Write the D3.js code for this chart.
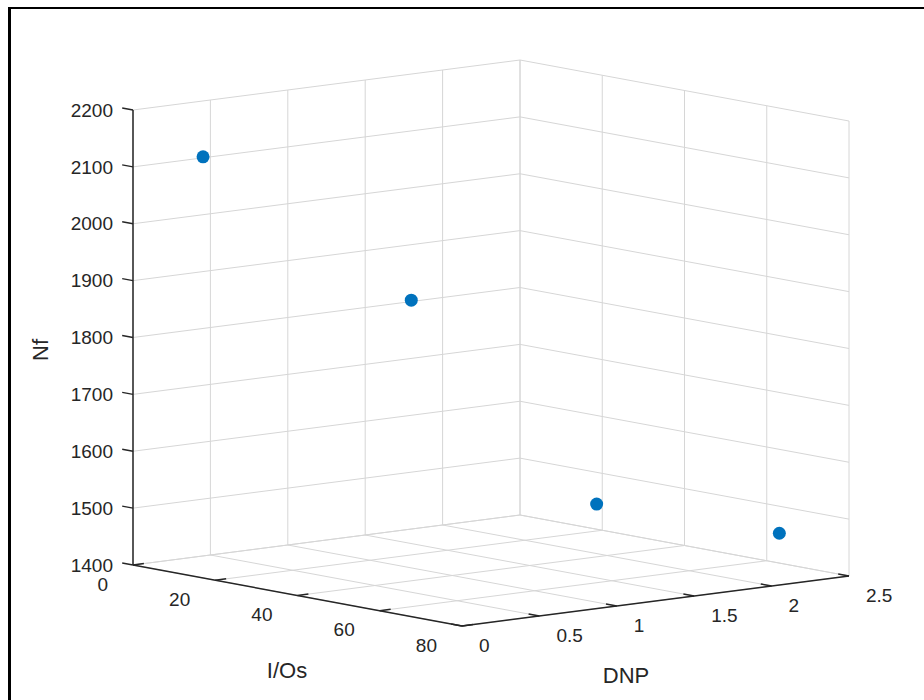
<!DOCTYPE html>
<html>
<head>
<meta charset="utf-8">
<script src="https://cdn.jsdelivr.net/npm/d3@7"></script>
<style>
  body { margin: 0; background: #fff; }
  text { font-family: "Liberation Sans", Arial, sans-serif; fill: #262626; }
</style>
</head>
<body>
<div id="chart"></div>
<script>
// data (x = I/Os, y = DNP, z = Nf)
const ioCounts = [8, 24, 48, 80];
const dnpValues = [0.24, 1.16, 1.72, 2.05];
const nfValues = [2120, 1857, 1511, 1491];

// tick labels
const ioTicks = [0, 20, 40, 60, 80];
const dnpTicks = [0, 0.5, 1, 1.5, 2, 2.5];
const nfTicks = [1400, 1500, 1600, 1700, 1800, 1900, 2000, 2100, 2200];

const width = 924, height = 700;

// screen basis of the 3D box (measured from the MATLAB view)
let origin = {x: 133, y: 565};      // I/Os = 0, DNP = 0, Nf = 1400
let ioVec = {x: 329, y: 61};        // full I/Os range
let dnpVec = {x: 387, y: -50};      // full DNP range
let nfLen = 455;                    // full Nf range (upwards)

let xScale = d3.scaleLinear().domain([0, 80]).range([0, 1]);
let yScale = d3.scaleLinear().domain([0, 2.5]).range([0, 1]);
let zScale = d3.scaleLinear().domain([1400, 2200]).range([0, 1]);

// project a data triple onto the page
function proj(io, dnp, nf) {
    let u = xScale(io), v = yScale(dnp), w = zScale(nf);
    return [origin.x + u * ioVec.x + v * dnpVec.x,
            origin.y + u * ioVec.y + v * dnpVec.y - w * nfLen];
}

function unit(vec) {
    let len = Math.hypot(vec.x, vec.y);
    return {x: vec.x / len, y: vec.y / len};
}

let svg = d3.select('#chart').append('svg')
    .attr('width', width).attr('height', height);

// figure frame (top and left edges are visible in the reference)
svg.append('line').attr('x1', 9.5).attr('y1', 7).attr('x2', 9.5).attr('y2', height)
    .attr('stroke', '#000').attr('stroke-width', 3);
svg.append('line').attr('x1', 8).attr('y1', 8).attr('x2', width).attr('y2', 8)
    .attr('stroke', '#000').attr('stroke-width', 2);

let line = d3.line();
let [ioMin, ioMax] = xScale.domain();
let [dnpMin, dnpMax] = yScale.domain();
let [nfMin, nfMax] = zScale.domain();

let grid = svg.append('g')
    .attr('fill', 'none')
    .attr('stroke', '#d6d6d6')
    .attr('stroke-width', 1);

// left wall (I/Os = 0)
nfTicks.forEach(function(n) {
    grid.append('path').attr('d', line([proj(ioMin, dnpMin, n), proj(ioMin, dnpMax, n)]));
});
dnpTicks.forEach(function(d) {
    grid.append('path').attr('d', line([proj(ioMin, d, nfMin), proj(ioMin, d, nfMax)]));
});
// back wall (DNP = max)
nfTicks.forEach(function(n) {
    grid.append('path').attr('d', line([proj(ioMin, dnpMax, n), proj(ioMax, dnpMax, n)]));
});
ioTicks.forEach(function(i) {
    grid.append('path').attr('d', line([proj(i, dnpMax, nfMin), proj(i, dnpMax, nfMax)]));
});
// floor (Nf = min)
ioTicks.forEach(function(i) {
    grid.append('path').attr('d', line([proj(i, dnpMin, nfMin), proj(i, dnpMax, nfMin)]));
});
dnpTicks.forEach(function(d) {
    grid.append('path').attr('d', line([proj(ioMin, d, nfMin), proj(ioMax, d, nfMin)]));
});

// axis lines
let axes = svg.append('g')
    .attr('fill', 'none')
    .attr('stroke', '#262626')
    .attr('stroke-width', 1.5);
axes.append('path').attr('d', line([proj(ioMin, dnpMin, nfMin), proj(ioMin, dnpMin, nfMax)]));
axes.append('path').attr('d', line([proj(ioMin, dnpMin, nfMin), proj(ioMax, dnpMin, nfMin)]));
axes.append('path').attr('d', line([proj(ioMax, dnpMin, nfMin), proj(ioMax, dnpMax, nfMin)]));

let ioDir = unit(ioVec), dnpDir = unit(dnpVec);
let tickLen = 11;
let fmt = d3.format('~g');
let tickFont = '19px';

// Nf ticks and labels (ticks point away from the I/Os direction)
nfTicks.forEach(function(n) {
    let p = proj(ioMin, dnpMin, n);
    axes.append('path').attr('d', line([p, [p[0] - ioDir.x * tickLen, p[1] - ioDir.y * tickLen]]));
    svg.append('text')
        .attr('x', p[0] - 20).attr('y', p[1])
        .attr('dy', '0.35em')
        .attr('text-anchor', 'end')
        .style('font-size', tickFont)
        .text(fmt(n));
});

// I/Os ticks and labels
ioTicks.forEach(function(i) {
    let p = proj(i, dnpMin, nfMin);
    axes.append('path').attr('d', line([p, [p[0] + dnpDir.x * tickLen, p[1] + dnpDir.y * tickLen]]));
    svg.append('text')
        .attr('x', p[0] - 25).attr('y', p[1] + 19)
        .attr('dy', '0.35em')
        .attr('text-anchor', 'end')
        .style('font-size', tickFont)
        .text(fmt(i));
});

// DNP ticks and labels
dnpTicks.forEach(function(d) {
    let p = proj(ioMax, d, nfMin);
    axes.append('path').attr('d', line([p, [p[0] - ioDir.x * tickLen, p[1] - ioDir.y * tickLen]]));
    svg.append('text')
        .attr('x', p[0] + 17).attr('y', p[1] + 19)
        .attr('dy', '0.35em')
        .attr('text-anchor', 'start')
        .style('font-size', tickFont)
        .text(fmt(d));
});

// axis titles
svg.append('text')
    .attr('transform', 'translate(48, 350) rotate(-90)')
    .attr('text-anchor', 'middle')
    .style('font-size', '22px')
    .text('Nf');
svg.append('text')
    .attr('x', 287).attr('y', 678)
    .attr('text-anchor', 'middle')
    .style('font-size', '22px')
    .text('I/Os');
svg.append('text')
    .attr('x', 626).attr('y', 683)
    .attr('text-anchor', 'middle')
    .style('font-size', '22px')
    .text('DNP');

// scatter points
let points = ioCounts.map(function(io, k) {
    return {io: io, dnp: dnpValues[k], nf: nfValues[k]};
});
svg.append('g').selectAll('circle')
    .data(points)
    .enter().append('circle')
    .attr('cx', function(d) { return proj(d.io, d.dnp, d.nf)[0]; })
    .attr('cy', function(d) { return proj(d.io, d.dnp, d.nf)[1]; })
    .attr('r', 6.5)
    .attr('fill', '#0072BD');
</script>
</body>
</html>
